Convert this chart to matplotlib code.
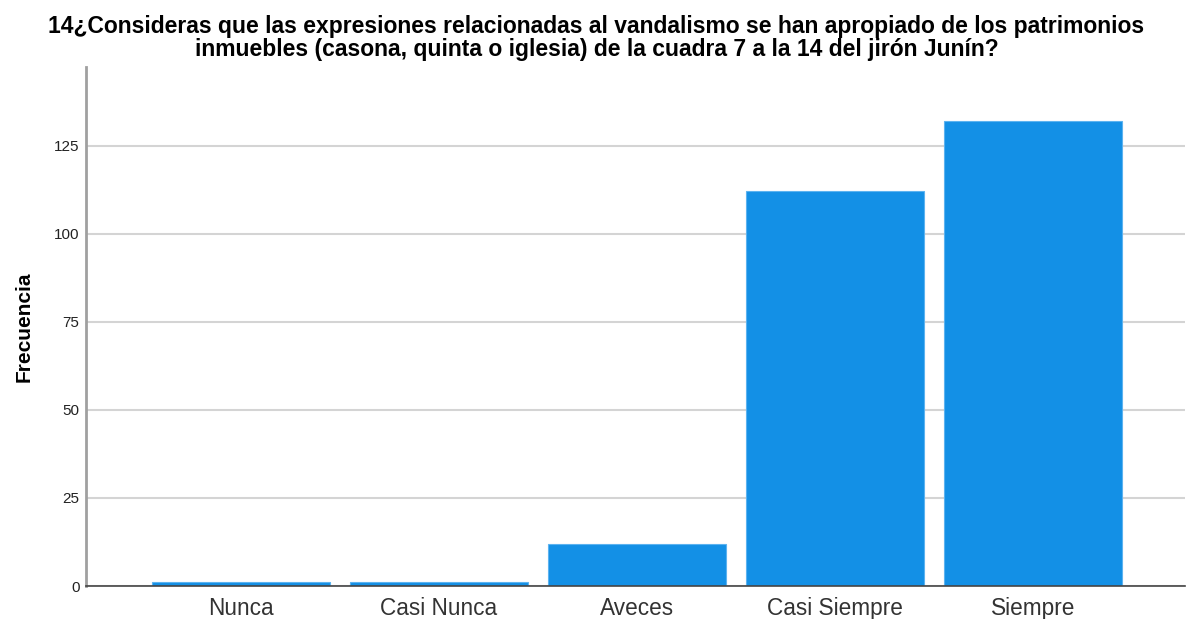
import matplotlib.pyplot as plt
import numpy as np

# Frequencies
categories = ["Nunca", "Casi Nunca", "Aveces", "Casi Siempre", "Siempre"]
frecuencia = [1, 1, 12, 112, 132]
y_ticks = [0, 25, 50, 75, 100, 125]

title = ("14¿Consideras que las expresiones relacionadas al vandalismo se han apropiado de los patrimonios\n"
         "inmuebles (casona, quinta o iglesia) de la cuadra 7 a la 14 del jirón Junín?")

plt.rcParams['font.family'] = ['Liberation Sans', 'DejaVu Sans']

fig = plt.figure(figsize=(11.88, 6.19), dpi=100)
ax = fig.add_axes([0.0728, 0.0533, 0.925, 0.8385])

x = np.arange(len(categories))
ax.bar(x, frecuencia, width=0.9, color='#1390e6', edgecolor='#5cb3f0',
       linewidth=0.8, zorder=3)

ax.set_xlim(-0.78, 4.77)
ax.set_ylim(0, 147.3)
ax.set_yticks(y_ticks)
ax.set_xticks(x)
ax.set_xticklabels(categories, fontsize=16.3, color='#333333')
ax.tick_params(axis='x', length=0, pad=8)
ax.tick_params(axis='y', length=0, pad=5, labelsize=11, labelcolor='#222222')

ax.grid(axis='y', color='#d4d4d4', linewidth=1.5, zorder=0)
ax.set_axisbelow(True)

for side in ['top', 'right']:
    ax.spines[side].set_visible(False)
ax.spines['left'].set_color('#a0a0a0')
ax.spines['left'].set_linewidth(2)
ax.spines['bottom'].set_color('#444444')
ax.spines['bottom'].set_linewidth(1.2)
ax.spines['bottom'].set_zorder(4)

ax.set_ylabel("Frecuencia", fontsize=15, fontweight='bold', labelpad=15)
fig.suptitle(title, fontsize=16.5, fontweight='bold', x=0.502, y=0.976, linespacing=1.0)

fig.savefig('out.png', dpi=100)
